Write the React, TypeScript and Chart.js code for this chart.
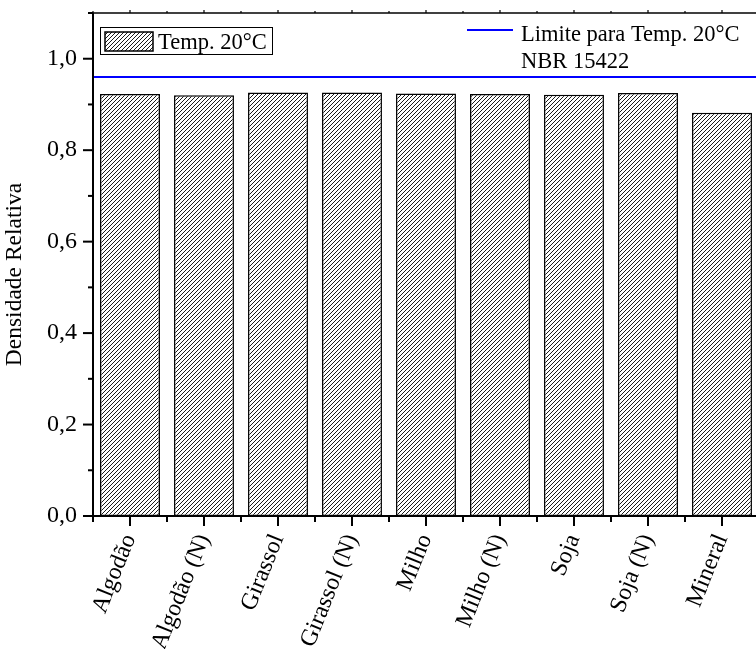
import React, { useEffect, useRef } from "react";
import { Chart, registerables } from "chart.js";

Chart.register(...registerables);

const categories = [
  "Algodão",
  "Algodão (N)",
  "Girassol",
  "Girassol (N)",
  "Milho",
  "Milho (N)",
  "Soja",
  "Soja (N)",
  "Mineral",
];
const density20 = [0.923, 0.920, 0.926, 0.926, 0.924, 0.923, 0.921, 0.925, 0.882];
const limitValue = 0.96;
const seriesLabel = "Temp. 20°C";
const limitLabelLines = ["Limite para Temp. 20°C", "NBR 15422"];
const yTitle = "Densidade Relativa";
const yMin = 0;
const yMax = 1.1;
const yStep = 0.1;

const FONT = "'Liberation Serif', 'Times New Roman', serif";

function makeHatch(): CanvasPattern | string {
  const c = document.createElement("canvas");
  const s = 4;
  c.width = s;
  c.height = s;
  const g = c.getContext("2d");
  if (!g) return "#fff";
  g.fillStyle = "#fff";
  g.fillRect(0, 0, s, s);
  g.strokeStyle = "#000";
  g.lineWidth = 0.9;
  g.beginPath();
  g.moveTo(0, s);
  g.lineTo(s, 0);
  g.moveTo(-1, 1);
  g.lineTo(1, -1);
  g.moveTo(s - 1, s + 1);
  g.lineTo(s + 1, s - 1);
  g.stroke();
  return g.createPattern(c, "repeat") || "#fff";
}

export default function App() {
  const ref = useRef<HTMLCanvasElement | null>(null);

  useEffect(() => {
    if (!ref.current) return;
    const hatch = makeHatch();

    const framePlugin = {
      id: "originFrame",
      afterDatasetsDraw(chart: any) {
        const ctx = chart.ctx as CanvasRenderingContext2D;
        const { left, right, top, bottom } = chart.chartArea;
        const xs = chart.scales.x;
        const ys = chart.scales.y;
        ctx.save();

        // limit line
        const yl = ys.getPixelForValue(limitValue);
        ctx.strokeStyle = "#0000ff";
        ctx.lineWidth = 2;
        ctx.beginPath();
        ctx.moveTo(left, yl);
        ctx.lineTo(right, yl);
        ctx.stroke();

        ctx.strokeStyle = "#000";
        // frame
        ctx.lineWidth = 1.5;
        ctx.beginPath();
        ctx.moveTo(left, top);
        ctx.lineTo(right, top);
        ctx.stroke();
        ctx.lineWidth = 2;
        ctx.beginPath();
        ctx.moveTo(left, top);
        ctx.lineTo(left, bottom + 1);
        ctx.moveTo(left, bottom);
        ctx.lineTo(right, bottom);
        ctx.stroke();

        // y ticks
        ys.ticks.forEach((t: any) => {
          const v = t.value;
          const py = ys.getPixelForValue(v);
          const major = Math.round(v * 10) % 2 === 0;
          const len = major ? 10 : 5;
          ctx.beginPath();
          ctx.moveTo(left - len, py);
          ctx.lineTo(left, py);
          ctx.stroke();
        });

        // x ticks
        const n = categories.length;
        const half = (xs.getPixelForValue(1) - xs.getPixelForValue(0)) / 2;
        for (let i = 0; i < n; i++) {
          const cx = xs.getPixelForValue(i);
          ctx.beginPath();
          ctx.moveTo(cx, bottom);
          ctx.lineTo(cx, bottom + 10);
          ctx.moveTo(cx - half, bottom);
          ctx.lineTo(cx - half, bottom + 6);
          ctx.stroke();
          ctx.lineWidth = 1.2;
          ctx.beginPath();
          ctx.moveTo(cx, top);
          ctx.lineTo(cx, top - 3);
          ctx.moveTo(cx - half, top);
          ctx.lineTo(cx - half, top - 2);
          ctx.stroke();
          ctx.lineWidth = 2;
        }
        {
          const cx = xs.getPixelForValue(n - 1) + half;
          ctx.beginPath();
          ctx.moveTo(cx, bottom);
          ctx.lineTo(cx, bottom + 6);
          ctx.stroke();
        }

        // y title
        ctx.fillStyle = "#000";
        ctx.font = `23.5px ${FONT}`;
        ctx.save();
        ctx.translate(left - 78, (top + bottom) / 2 + 10);
        ctx.rotate(-Math.PI / 2);
        ctx.textAlign = "center";
        ctx.textBaseline = "middle";
        ctx.fillText(yTitle, 0, 0);
        ctx.restore();

        // left legend (bar series)
        ctx.font = `22.5px ${FONT}`;
        const bx = left + 7;
        const by = top + 14;
        ctx.lineWidth = 1;
        ctx.strokeStyle = "#000";
        ctx.fillStyle = "#fff";
        ctx.fillRect(bx, by, 172, 27);
        ctx.strokeRect(bx + 0.5, by + 0.5, 172, 27);
        ctx.fillStyle = hatch as any;
        ctx.fillRect(bx + 5, by + 5, 48, 19);
        ctx.lineWidth = 1.5;
        ctx.strokeRect(bx + 5, by + 5, 48, 19);
        ctx.fillStyle = "#000";
        ctx.textAlign = "left";
        ctx.textBaseline = "alphabetic";
        ctx.fillText(seriesLabel, bx + 58, by + 22);

        // right legend (limit line)
        const lx = left + 374;
        ctx.strokeStyle = "#0000ff";
        ctx.lineWidth = 2;
        ctx.beginPath();
        ctx.moveTo(lx, top + 17);
        ctx.lineTo(lx + 46, top + 17);
        ctx.stroke();
        ctx.fillStyle = "#000";
        ctx.fillText(limitLabelLines[0], lx + 54, top + 28);
        ctx.fillText(limitLabelLines[1], lx + 54, top + 55);

        ctx.restore();
      },
    };

    const chart = new Chart(ref.current, {
      type: "bar",
      data: {
        labels: categories,
        datasets: [
          {
            label: seriesLabel,
            data: density20,
            backgroundColor: hatch as any,
            borderColor: "#000",
            borderWidth: 1.5,
            borderSkipped: false,
            barPercentage: 0.81,
            categoryPercentage: 1,
          },
        ],
      },
      options: {
        responsive: false,
        animation: false,
        layout: { padding: { top: 13, right: 1, left: 0, bottom: 0 } },
        plugins: {
          legend: { display: false },
          tooltip: { enabled: false },
          title: { display: false },
        },
        scales: {
          x: {
            type: "category",
            grid: { display: false, drawTicks: false },
            border: { display: false },
            ticks: {
              autoSkip: false,
              minRotation: 68,
              maxRotation: 68,
              padding: 14,
              color: "#000",
              font: { family: FONT, size: 24 },
            },
            afterFit: (s: any) => {
              s.height = 133;
              s.paddingLeft = 0;
              s.paddingRight = 0;
            },
          },
          y: {
            min: yMin,
            max: yMax,
            grid: { display: false, drawTicks: false },
            border: { display: false },
            ticks: {
              stepSize: yStep,
              padding: 16,
              color: "#000",
              font: { family: FONT, size: 24 },
              callback: (v: any) => {
                const n = Math.round(Number(v) * 10);
                if (n % 2 !== 0) return "";
                return (n / 10).toFixed(1).replace(".", ",");
              },
            },
            afterFit: (s: any) => {
              s.width = 93;
              s.paddingTop = 0;
              s.paddingBottom = 0;
            },
          },
        },
      },
      plugins: [framePlugin],
    });

    return () => chart.destroy();
  }, []);

  return (
    <div
      style={{
        position: "fixed",
        left: 0,
        top: 0,
        width: 756,
        height: 649,
        overflow: "hidden",
        background: "#fff",
      }}
    >
      <canvas ref={ref} width={760} height={649} style={{ display: "block" }} />
    </div>
  );
}
